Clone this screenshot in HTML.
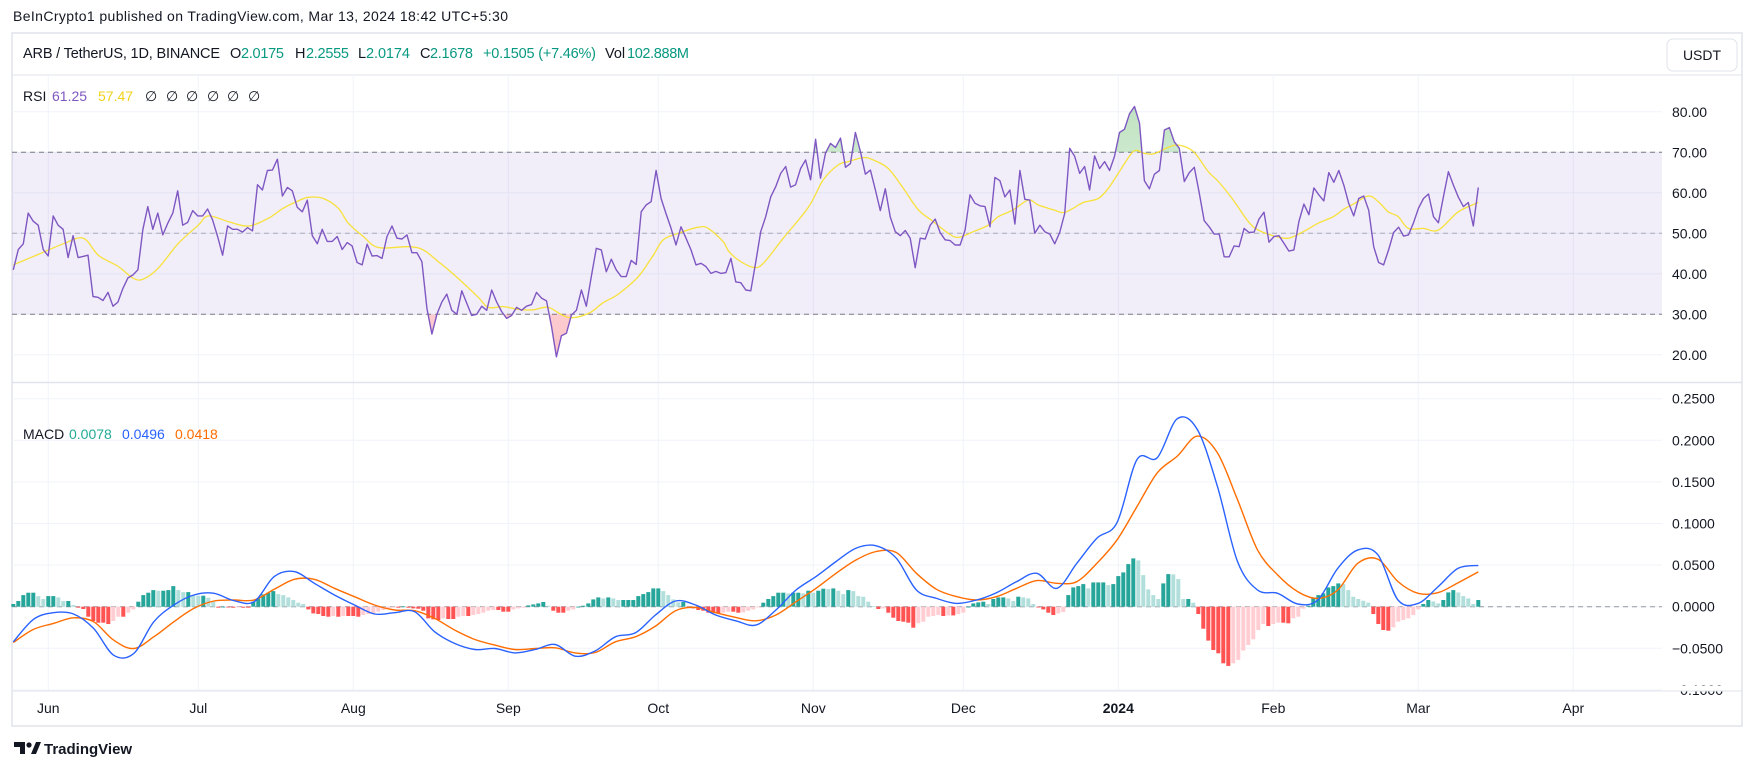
<!DOCTYPE html>
<html><head><meta charset="utf-8"><style>
html,body{margin:0;padding:0;background:#fff;}
svg{display:block;font-family:"Liberation Sans",sans-serif;}
</style></head><body>
<svg id="chart" xmlns="http://www.w3.org/2000/svg" width="1755" height="770" viewBox="0 0 1755 770">
<defs>
<linearGradient id="obGrad" x1="0" y1="0" x2="0" y2="1"><stop offset="0" stop-color="#4caf50" stop-opacity="0.35"/><stop offset="1" stop-color="#4caf50" stop-opacity="0.02"/></linearGradient>
<linearGradient id="osGrad" x1="0" y1="1" x2="0" y2="0"><stop offset="0" stop-color="#f23645" stop-opacity="0.3"/><stop offset="1" stop-color="#f23645" stop-opacity="0.02"/></linearGradient>
</defs>
<text x="13" y="21" font-size="14" fill="#131722" textLength="495">BeInCrypto1 published on TradingView.com, Mar 13, 2024 18:42 UTC+5:30</text>
<rect x="12" y="33" width="1730" height="693" fill="none" stroke="#e0e3eb" stroke-width="1.5"/>
<line x1="12" y1="75" x2="1742" y2="75" stroke="#e0e3eb"/>
<g font-size="14.5">
<text x="23" y="58" fill="#131722" textLength="197">ARB / TetherUS, 1D, BINANCE</text>
<text x="230" y="58" fill="#131722">O</text>
<text x="241" y="58" fill="#089981" textLength="43">2.0175</text>
<text x="295" y="58" fill="#131722">H</text>
<text x="306" y="58" fill="#089981" textLength="43">2.2555</text>
<text x="358" y="58" fill="#131722">L</text>
<text x="366" y="58" fill="#089981" textLength="44">2.0174</text>
<text x="420" y="58" fill="#131722">C</text>
<text x="430" y="58" fill="#089981" textLength="43">2.1678</text>
<text x="483" y="58" fill="#089981" textLength="113">+0.1505 (+7.46%)</text>
<text x="605" y="58" fill="#131722">Vol</text>
<text x="627" y="58" fill="#089981" textLength="62">102.888M</text>
</g>
<g>
<rect x="1667" y="39" width="70" height="32" rx="6" fill="#fff" stroke="#e0e3eb"/>
<text x="1702" y="60" font-size="14" fill="#131722" text-anchor="middle">USDT</text>
</g>
<g id="grid"></g>
<g id="rsiPane"></g>
<g id="macdPane"></g>
<g id="axes"></g>
<g font-size="14">
<text x="23" y="101" fill="#131722">RSI</text>
<text x="52" y="101" fill="#7e57c2">61.25</text>
<text x="98" y="101" fill="#f2d21b">57.47</text>
<text x="145" y="101" fill="#131722">∅</text><text x="166" y="101" fill="#131722">∅</text><text x="186" y="101" fill="#131722">∅</text><text x="207" y="101" fill="#131722">∅</text><text x="227" y="101" fill="#131722">∅</text><text x="248" y="101" fill="#131722">∅</text>
</g>
<g font-size="14">
<text x="23" y="439" fill="#131722">MACD</text>
<text x="69" y="439" fill="#22ab94">0.0078</text>
<text x="122" y="439" fill="#2962ff">0.0496</text>
<text x="175" y="439" fill="#ff6d00">0.0418</text>
</g>
<g>
<path d="M14 742 h11 v12 h-5 v-7 h-6z" fill="#131722"/>
<circle cx="29" cy="745" r="2.6" fill="#131722"/>
<path d="M31 754 l5 -12 h5 l-5 12z" fill="#131722"/>
<text x="44" y="754" font-size="15" font-weight="bold" fill="#131722">TradingView</text>
</g>
</svg>
<script>
// ---- data ----
const monthLabels = ["Jun","Jul","Aug","Sep","Oct","Nov","Dec","2024","Feb","Mar","Apr"];
const monthDays = [7,37,68,99,129,160,190,221,252,281,312];
const rsiTicks = [80,70,60,50,40,30,20];
const macdTicks = [0.25,0.2,0.15,0.1,0.05,0,-0.05,-0.1];
const rsiValues = [41,46,47.4,55,53,52,46,44.4,54.3,52,51,44,49.4,44,44.3,44.6,34.4,34.2,33.4,35.4,32,33,36.4,39,39.7,41,51,56.6,51,55,49.6,52.5,55,60.5,52,52.7,55.6,54.3,54.3,56,53.3,49.2,44.6,51.8,51,51,50.3,51.4,50.6,62,60.7,65.5,65.6,68.3,59.2,61.3,60.5,56.4,55.3,58.2,49.4,47.4,51,48,48,49.2,46,47.7,46.9,42.8,42.2,47.3,44.4,44.5,
43.8,49.2,51.8,48.8,48.6,49.6,45.2,45.2,43,31.5,25.1,30,33,35,31,30,35.8,32.7,29.7,30,32,31,36,33,30.7,29,29.7,31.7,31,32,32.4,35.4,34,33.3,27,19.5,24.7,25.3,29.8,31,36,32,39.3,46.3,45.9,40.5,43.6,41,39.3,39.3,43.3,42.3,55.3,57,57.8,65.5,58.6,54.8,51.2,47.1,51.6,48.8,45.9,42.2,42.6,41.8,40.1,40.6,40.1,40.3,43.8,38,37.8,36,
35.8,43,50.4,54.1,59,61.5,64.8,66.5,61.4,62,66,68.1,63.2,73.2,63.6,69.8,72.2,71.2,73.5,66.3,67.2,74.9,70.2,64.6,65.6,60.7,55.6,61,54,50.4,49.4,50.7,48.8,41.5,48.8,48.6,52,53.5,50.2,48.4,48.2,47.1,47.1,50.8,59.5,57.4,56.8,56.6,51.6,63.8,63,59,60.7,52.3,65.5,58.4,58.2,50,52,50.4,49.8,47.4,50.2,54.9,71,69,64.8,66.5,60.7,69.1,66,67.7,65.5,69,74.9,
75.7,79.5,81.3,77.2,63,61,64.6,65.5,75.5,76.1,72.6,71,62.8,65,66.3,59.9,53.1,51.6,49.8,49.8,44.2,44.2,46.9,46.7,51.2,50.2,50.3,53.5,55.2,47.8,49.2,49.4,47.5,45.6,45.9,52.9,57.2,54.6,61.2,59.5,58,65,62.6,65.5,61.9,57.4,54.3,58.6,59.2,55.7,46.7,42.8,42.2,45.9,50.2,51.5,49.3,49.6,52.6,56.2,58.6,59.7,54.1,52.6,59,65.2,61.9,58.9,56.6,57.6,51.8,61.3];
const rsiMaDays = [0,5,10,14,17,21,24,26,29,33,37,39,43,47,51,54,57,59,62,65,67,70,73,79,82,85,87,90,93,95,98,101,104,107,111,115,118,121,125,128,130,133,137,139,142,143,145,148,150,154,159,162,165,167,170,172,175,178,181,184,187,189,192,195,197,200,203,205,208,210,212,214,217,219,221,224,226,228,231,233,236,239,241,244,247,249,252,255,258,261,264,266,268,271,273,275,277,279,282,285,289,293];
const rsiMaValues = [42.2,44.8,47.4,48.8,44.6,41.8,38.9,38.7,41.4,47.5,52,54.3,52.9,51.8,53.7,56.2,58,58.9,58.6,56.2,52.5,49.2,46.5,46.7,45.9,43,41,37.7,34.2,31.7,31.9,31.2,31.1,31.7,29.2,30.2,32.9,35,39.3,44.6,48.4,50,51.5,51.2,47.9,45.7,43.4,41.6,42.6,48.8,56.4,63.2,66.9,67.7,68.7,68.1,66,61.1,55.8,52.9,50,49,50.4,52,54.1,55.8,58.2,57,55.8,55.1,56.2,57.6,58.6,61.1,64.8,70.2,69.8,69.6,71.2,71.8,70.2,65.2,62.8,58.2,52.9,50.8,49.4,48.8,50.4,52.5,54.1,55.9,57.2,59.2,57.8,55.3,54.1,51.2,51.2,50.8,55.3,57.6];
const macdValues = [-0.0422,-0.0153,-0.0072,-0.0088,-0.0261,-0.0583,-0.0563,-0.0181,0.002,0.0141,0.0161,0.0072,0.006,0.0362,0.0422,0.0281,0.0141,0.002,-0.0088,-0.0072,-0.006,-0.0302,-0.0442,-0.0514,-0.0503,-0.0555,-0.0515,-0.0454,-0.0595,-0.0531,-0.0362,-0.0314,-0.01,0.0068,0.002,-0.01,-0.0169,-0.0221,-0.004,0.0201,0.0362,0.0543,0.0704,0.0732,0.0583,0.0201,0.01,0.004,0.008,0.0169,0.0302,0.0402,0.0221,0.0523,0.0824,0.1013,0.177,0.179,0.226,0.213,0.1447,0.0543,0.0201,0.0161,0.0032,0.008,0.0462,0.0683,0.0623,0.008,0.004,0.0241,0.0462,0.0496];
const signalValues = [-0.043,-0.0273,-0.0201,-0.0133,-0.018,-0.0402,-0.0503,-0.0362,-0.0181,-0.002,0.0068,0.008,0.008,0.0209,0.0329,0.0329,0.0221,0.012,0.002,-0.004,-0.0048,-0.0141,-0.0281,-0.0394,-0.0462,-0.0515,-0.0503,-0.0494,-0.0555,-0.0551,-0.0422,-0.0362,-0.0233,-0.0048,-0.0008,-0.0072,-0.0129,-0.0169,-0.01,0.006,0.0221,0.0402,0.0563,0.0663,0.0651,0.0402,0.0209,0.0121,0.008,0.0121,0.0221,0.0314,0.0281,0.0302,0.0523,0.0804,0.1206,0.1608,0.181,0.205,0.185,0.1286,0.0683,0.0382,0.0181,0.01,0.0201,0.0523,0.0571,0.0302,0.0161,0.0169,0.0289,0.0418];
const histValues = [0.0032,0.0068,0.014,0.0168,0.0168,0.0128,0.0092,0.0128,0.0128,0.0112,0.0068,0.0068,0.002,-0.0012,-0.0028,-0.012,-0.0172,-0.0192,-0.0192,-0.0208,-0.0172,-0.012,-0.012,-0.0072,-0.0032,0.006,0.014,0.0168,0.02,0.0192,0.0192,0.02,0.0248,0.02,0.0176,0.0176,0.014,0.0132,0.0132,0.0108,0.006,-0.0012,0,-0.0008,-0.0012,-0.0008,-0.0012,-0.0012,0.006,0.01,0.0148,0.0168,0.0188,0.0152,0.014,0.0112,0.008,0.0048,0.0032,-0.0032,-0.008,-0.0088,-0.0112,-0.012,-0.0112,-0.012,-0.0112,-0.0112,-0.0112,-0.012,-0.01,-0.0088,-0.008,-0.006,-0.004,-0.002,-0.0012,-0.0012,0.0004,-0.0012,-0.002,-0.0024,-0.0048,-0.014,-0.0152,-0.016,-0.014,-0.0148,-0.0148,-0.012,-0.0112,-0.0112,-0.01,-0.0088,-0.0072,-0.0048,-0.004,
-0.004,-0.006,-0.006,-0.0032,-0.002,-0.0012,0.0016,0.0028,0.004,0.0056,0.0012,-0.0048,-0.0072,-0.0072,-0.0048,-0.0032,0,0.0012,0.004,0.0088,0.0112,0.01,0.0112,0.01,0.008,0.008,0.008,0.008,0.0128,0.0152,0.0176,0.022,0.022,0.0188,0.014,0.0088,0.0052,0.0056,-0.0008,-0.002,-0.004,-0.0048,-0.0072,-0.0072,-0.008,-0.0072,-0.006,-0.006,-0.0072,-0.0068,-0.0048,-0.0032,-0.0008,0.0048,0.0092,0.0128,0.0168,0.0168,0.016,0.0168,0.0168,0.016,0.0192,0.0168,0.0192,0.0216,0.0212,0.022,0.0192,0.0152,0.02,0.0188,0.0128,0.012,0.006,0.0008,-0.0028,-0.002,-0.0072,-0.0132,-0.0172,-0.018,-0.0192,-0.0252,-0.02,-0.018,-0.012,-0.0112,-0.01,-0.0112,-0.0104,-0.0104,-0.0088,-0.0072,0,0.004,0.0052,0.006,
0.0032,0.0092,0.0112,0.0112,0.01,0.0068,0.012,0.0112,0.01,0.0032,-0.0008,-0.0032,-0.0072,-0.01,-0.008,-0.0064,0.014,0.0232,0.0248,0.0272,0.022,0.0292,0.0292,0.0292,0.026,0.0272,0.0368,0.0412,0.0512,0.058,0.0556,0.038,0.0208,0.014,0.0092,0.028,0.0392,0.0388,0.0332,0.0092,0.0092,0.0048,-0.0088,-0.0264,-0.0408,-0.052,-0.056,-0.068,-0.0712,-0.068,-0.064,-0.0528,-0.046,-0.0392,-0.028,-0.0208,-0.0232,-0.0208,-0.0192,-0.0192,-0.02,-0.014,-0.012,-0.0024,0.0012,0.0112,0.014,0.016,0.0232,0.0248,0.028,0.0272,0.02,0.012,0.0092,0.0072,0.0048,-0.0088,-0.0208,-0.028,-0.0288,-0.0248,-0.018,-0.016,-0.014,-0.01,-0.0032,0.0032,0.008,0.0064,0.004,0.008,0.0172,0.02,0.0172,0.0128,0.01,0.0032,0.008];

// ---- scales ----
const LAST_DAY = 293;
function xDay(d){ return 13.3 + d*5.0; }
function xIndex(i, n){ return xDay(i*LAST_DAY/(n-1)); }
function yRsi(v){ return 233.3 - (v-50)*4.05; }
function yMacd(v){ return 606.7 - v/0.05*41.6; }
const NS = "http://www.w3.org/2000/svg";
function mk(tag, attrs, parent){ const e=document.createElementNS(NS,tag); for(const k in attrs) e.setAttribute(k,attrs[k]); parent.appendChild(e); return e; }
function smoothPath(pts){
  let d='M'+pts[0][0].toFixed(1)+','+pts[0][1].toFixed(1);
  for(let i=0;i<pts.length-1;i++){
    const p0=pts[Math.max(0,i-1)],p1=pts[i],p2=pts[i+1],p3=pts[Math.min(pts.length-1,i+2)];
    const c1x=p1[0]+(p2[0]-p0[0])/6,c1y=p1[1]+(p2[1]-p0[1])/6;
    const c2x=p2[0]-(p3[0]-p1[0])/6,c2y=p2[1]-(p3[1]-p1[1])/6;
    d+=' C'+c1x.toFixed(1)+','+c1y.toFixed(1)+' '+c2x.toFixed(1)+','+c2y.toFixed(1)+' '+p2[0].toFixed(1)+','+p2[1].toFixed(1);
  }
  return d;
}
const grid=document.getElementById('grid'), rsiPane=document.getElementById('rsiPane'), macdPane=document.getElementById('macdPane'), axes=document.getElementById('axes');

monthDays.forEach((d,i)=>{
  const x=xDay(d);
  const l=mk('line',{x1:x,y1:75,x2:x,y2:691,stroke:'#f0f3fa','stroke-width':1},grid);
  
  
  const t=mk('text',{x:x,y:713,'font-size':14,fill:'#131722','text-anchor':'middle','font-weight':monthLabels[i]==='2024'?'bold':'normal'},axes);
  t.textContent=monthLabels[i];
  
  
});
rsiTicks.forEach(v=>{
  const y=yRsi(v);
  const l=mk('line',{x1:12,y1:y,x2:1662,y2:y,stroke:'#f0f3fa'},grid);
  
  
  const t=mk('text',{x:1672,y:y+5,'font-size':14,fill:'#131722'},axes);
  t.textContent=v.toFixed(2);
  
  
});
macdTicks.forEach(v=>{
  const y=yMacd(v);
  const l=mk('line',{x1:12,y1:y,x2:1662,y2:y,stroke:'#f0f3fa'},grid);
  
  
  const t=mk('text',{x:1672,y:y+5,'font-size':14,fill:'#131722'},axes);
  t.textContent=(v<0?'\u22120':'')+(v<0?Math.abs(v).toFixed(4).slice(1):v.toFixed(4));
  
  
});
const sep=mk('line',{x1:12,y1:382.5,x2:1742,y2:382.5,stroke:'#e0e3eb','stroke-width':1.5},axes);


const mask=mk('rect',{x:1662,y:686,width:79,height:5,fill:'#fff'},axes);


const bottomLine=mk('line',{x1:12,y1:691,x2:1742,y2:691,stroke:'#e0e3eb'},axes);



const band=mk('rect',{x:12,y:yRsi(70),width:1650,height:yRsi(30)-yRsi(70),fill:'rgba(126,87,194,0.1)'},rsiPane);


[[70,'#787b86'],[50,'rgba(120,123,134,0.55)'],[30,'#787b86']].forEach(([v,c])=>{
  const l=mk('line',{x1:12,y1:yRsi(v),x2:1662,y2:yRsi(v),stroke:c,'stroke-dasharray':'5 4'},rsiPane);
  
  
});
const n=rsiValues.length;
const rsiPts=rsiValues.map((v,i)=>[xIndex(i,n),yRsi(v)]);
const ptsStr=rsiPts.map(p=>p[0].toFixed(1)+','+p[1].toFixed(1)).join(' ');
const obC=mk('clipPath',{id:'obClip'},rsiPane);
mk('rect',{x:0,y:0,width:1755,height:yRsi(70)},obC);
const osC=mk('clipPath',{id:'osClip'},rsiPane);
mk('rect',{x:0,y:yRsi(30),width:1755,height:100},osC);
const ob=mk('polygon',{points:xIndex(0,n)+','+yRsi(70)+' '+ptsStr+' '+xIndex(n-1,n)+','+yRsi(70),fill:'url(#obGrad)','clip-path':'url(#obClip)'},rsiPane);


const os=mk('polygon',{points:xIndex(0,n)+','+yRsi(30)+' '+ptsStr+' '+xIndex(n-1,n)+','+yRsi(30),fill:'url(#osGrad)','clip-path':'url(#osClip)'},rsiPane);


const maLine=mk('path',{d:smoothPath(rsiMaDays.map((d,i)=>[xDay(d),yRsi(rsiMaValues[i])])),fill:'none',stroke:'#f7e13b','stroke-width':1.3},rsiPane);


const rsiLine=mk('polyline',{points:ptsStr,fill:'none',stroke:'#7e57c2','stroke-width':1.4,'stroke-linejoin':'round'},rsiPane);



const zero=mk('line',{x1:12,y1:yMacd(0),x2:1662,y2:yMacd(0),stroke:'#9598a1','stroke-dasharray':'5 4'},macdPane);


const hn=histValues.length;
histValues.forEach((v,i)=>{
  const prev=i>0?histValues[i-1]:v;
  let col;
  if(v>=0) col = v>=prev ? '#26a69a' : '#b2dfdb';
  else col = v<=prev ? '#ff5252' : '#ffcdd2';
  const x=xIndex(i,hn), y0=yMacd(0), y1=yMacd(v);
  const r=mk('rect',{x:(x-2).toFixed(1),y:Math.min(y0,y1).toFixed(1),width:4,height:Math.max(0.8,Math.abs(y1-y0)).toFixed(1),fill:col},macdPane);
  
  
});
function line(vals,color,name){
  const m=vals.length;
  const p=mk('path',{d:smoothPath(vals.map((v,i)=>[xIndex(i,m),yMacd(v)])),fill:'none',stroke:color,'stroke-width':1.4},macdPane);
  
  
}
line(signalValues,'#ff6d00','signal-line');
line(macdValues,'#2962ff','macd-line');
</script>
</body></html>
